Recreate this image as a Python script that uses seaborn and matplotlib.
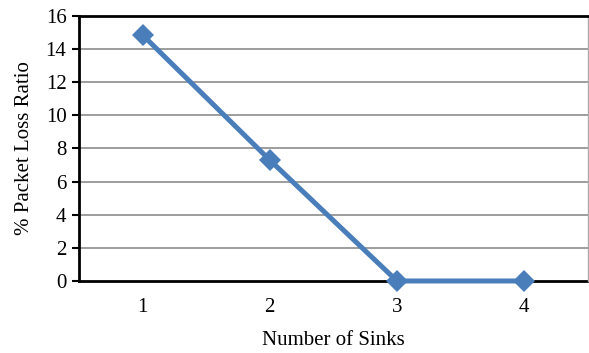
import numpy as np
import pandas as pd
import matplotlib
matplotlib.use("Agg")
import matplotlib.pyplot as plt
import seaborn as sns

# Data
sinks = [1, 2, 3, 4]
packet_loss = [14.85, 7.3, 0.0, 0.0]
y_ticks = [0, 2, 4, 6, 8, 10, 12, 14, 16]

sns.set_theme(style="white")
plt.rcParams['font.family'] = ['Liberation Serif', 'DejaVu Serif']

df = pd.DataFrame({"sinks": sinks, "loss": packet_loss})

fig = plt.figure(figsize=(5.89, 3.53), dpi=100)
ax = fig.add_axes([0.134, 0.204, 0.864, 0.751])

# Gridlines
for t in y_ticks[1:-1]:
    ax.axhline(t, color='#8c8c8c', lw=1.2, zorder=0)

sns.lineplot(data=df, x="sinks", y="loss", ax=ax, color='#4a7ebb', lw=3.6,
             marker='D', markersize=11, markeredgewidth=0, zorder=3,
             clip_on=False)

ax.set_xlim(0.5, 4.5)
ax.set_ylim(0, 16)
ax.set_xticks(sinks)
ax.set_yticks(y_ticks)
ax.tick_params(axis='y', which='major', length=5, width=1.5, color='black',
               direction='out', left=True, labelsize=15, pad=4, colors='black')
ax.tick_params(axis='x', length=0, labelsize=15, pad=12, colors='black')
ax.set_xlabel("Number of Sinks", fontsize=15, color='black', labelpad=10)
ax.set_ylabel("% Packet Loss Ratio", fontsize=15, color='black', labelpad=8)

for side in ['left', 'bottom', 'top']:
    ax.spines[side].set_color('black')
    ax.spines[side].set_linewidth(2)
ax.spines['right'].set_color('#aaaaaa')
ax.spines['right'].set_linewidth(1)
ax.spines['bottom'].set_zorder(2)

fig.savefig("out.png", dpi=100)
